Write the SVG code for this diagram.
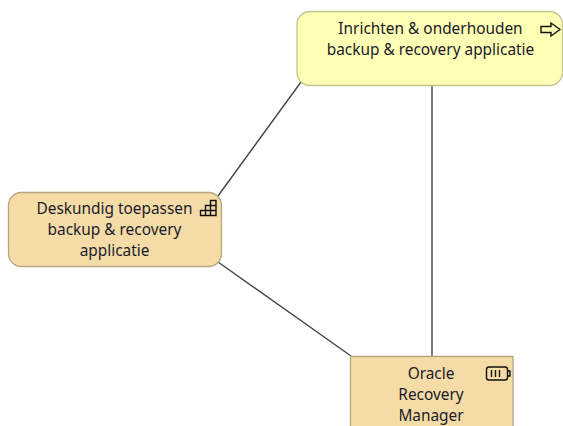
<svg xmlns="http://www.w3.org/2000/svg" width="563" height="426" viewBox="0 0 563 426">
<style>
.box{stroke-width:1.3}
.yellow{fill:#ffffb5;stroke:#c4c48e}
.tan{fill:#f5dca7;stroke:#b8a67f}
.lbl{font-family:"Noto Sans","Open Sans",sans-serif;font-size:15.4px;fill:#1a1a2a;text-anchor:middle}
.ico{fill:none;stroke:#111;stroke-width:1.4}
.conn{stroke:#444;stroke-width:1.4;fill:none}
</style>
<rect width="563" height="426" fill="#fff"/>
<g id="connectors">
<line class="conn" x1="301" y1="82" x2="218" y2="196"/>
<line class="conn" x1="432" y1="85" x2="432" y2="356"/>
<line class="conn" x1="218" y1="262" x2="351" y2="356"/>
</g>
<g id="node-inrichten">
<rect class="box yellow" x="297" y="11.500" width="265.500" height="74" rx="13"/>
<text class="lbl" x="430.500" y="33.500">Inrichten &amp; onderhouden</text>
<text class="lbl" x="430.500" y="54.500">backup &amp; recovery applicatie</text>
<path class="ico" d="M541 26.500h10v-3.500l9 6.500-9 6.500v-3.500h-10z"/>
</g>
<g id="node-deskundig">
<rect class="box tan" x="8.500" y="192.500" width="213" height="74" rx="13"/>
<text class="lbl" x="114.500" y="214">Deskundig toepassen</text>
<text class="lbl" x="114.500" y="235">backup &amp; recovery</text>
<text class="lbl" x="114.500" y="256">applicatie</text>
<path class="ico" d="M200.500 215.500h15.500v-15h-5.500v5h-5v5h-5zM205.500 210.500h10.500M210.500 205.500h5.500M205.500 210.500v5M210.500 205.500v10"/>
</g>
<g id="node-oracle">
<path class="box tan" d="M350.500 427V356.500H513V427"/>
<text class="lbl" x="431" y="379">Oracle</text>
<text class="lbl" x="431" y="400">Recovery</text>
<text class="lbl" x="431" y="421">Manager</text>
<rect class="ico" x="486.500" y="367" width="21" height="13" rx="2.500"/>
<path class="ico" d="M507.500 371h2.500v5h-2.500M491.500 370v7M495.500 370v7M499.500 370v7"/>
</g>
</svg>
